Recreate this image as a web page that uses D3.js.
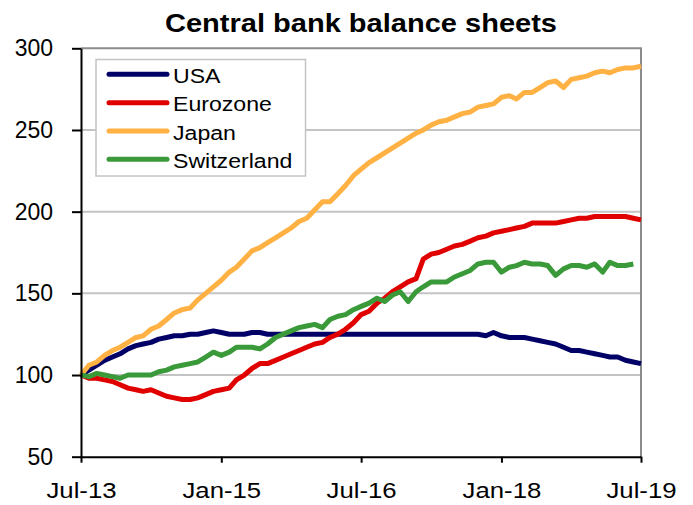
<!DOCTYPE html>
<html>
<head>
<meta charset="utf-8">
<script src="https://cdn.jsdelivr.net/npm/d3@7"></script>
<style>
  html, body { margin: 0; padding: 0; background: #fff; }
  svg { display: block; font-family: "Liberation Sans", Arial, sans-serif; }
</style>
</head>
<body>
<svg id="chart" width="693" height="505"></svg>
<script>
// Monthly index values, Jul-2013 = 100
const startMonth = new Date(2013, 6, 1);

const usa = [100,103,106,109,111,113,116,118,119,120,122,123,124,124,125,125,126,127,126,125,
  125,125,126,126,125,125,125,125,125,125,125,125,125,125,125,125,125,125,125,125,
  125,125,125,125,125,125,125,125,125,125,125,125,124,126,124,123,123,123,122,121,
  120,119,117,115,115,114,113,112,111,111,109,108,107];

const eurozone = [100,98,98,97,96,94,92,91,90,91,89,87,86,85,85,86,88,90,91,92,
  97,100,104,107,107,109,111,113,115,117,119,120,123,125,128,132,137,139,144,147,
  151,154,157,159,171,174,175,177,179,180,182,184,185,187,188,189,190,191,193,193,
  193,193,194,195,196,196,197,197,197,197,197,196,195];

const japan = [100,106,108,112,115,117,120,123,124,128,130,134,138,140,141,146,150,154,158,163,
  166,171,176,178,181,184,187,190,194,196,201,206,206,211,216,222,226,230,233,236,
  239,242,245,248,250,253,255,256,258,260,261,264,265,266,270,271,269,273,273,276,
  279,280,276,281,282,283,285,286,285,287,288,288,289];

const switzerland = [100,99,101,100,99,98,100,100,100,100,102,103,105,106,107,108,111,114,112,114,
  117,117,117,116,119,123,125,127,129,130,131,129,134,136,137,140,142,144,147,145,
  149,151,145,151,154,157,157,157,160,162,164,168,169,169,163,166,167,169,168,168,
  167,161,165,167,167,166,168,163,169,167,167,168];

const seriesNames = ["USA", "Eurozone", "Japan", "Switzerland"];
const seriesColors = ["#000066", "#e00000", "#ffb144", "#3a9a3a"];
const yTicks = [50, 100, 150, 200, 250, 300];
const xTickMonths = [0, 18, 36, 54, 72];
const title = "Central bank balance sheets";

const svg = d3.select("#chart");
const plotLeft = 81, plotRight = 641, plotTop = 48.3, plotBottom = 456.7;

const monthDate = i => d3.timeMonth.offset(startMonth, i);
const x = d3.scaleTime()
  .domain([monthDate(0), monthDate(72)])
  .range([plotLeft, plotRight]);
const y = d3.scaleLinear().domain([50, 300]).range([plotBottom, plotTop]);

// Title
svg.append("text")
  .attr("x", (plotLeft + plotRight) / 2)
  .attr("y", 31.7)
  .attr("text-anchor", "middle")
  .attr("font-weight", "bold")
  .attr("font-size", 26)
  .attr("textLength", 392)
  .attr("lengthAdjust", "spacingAndGlyphs")
  .text(title);

// Horizontal gridlines
svg.append("g")
  .selectAll("line")
  .data(yTicks.filter(v => v > 50 && v < 300))
  .join("line")
  .attr("x1", plotLeft).attr("x2", plotRight)
  .attr("y1", d => y(d)).attr("y2", d => y(d))
  .attr("stroke", "#c4c4c4").attr("stroke-width", 2);

// Top and right frame
svg.append("path")
  .attr("d", `M${plotLeft},${y(300)}H${plotRight}V${plotBottom}`)
  .attr("fill", "none").attr("stroke", "#8c8c8c").attr("stroke-width", 2);

// Series lines
const line = d3.line()
  .x((d, i) => x(monthDate(i)))
  .y(d => y(d));

const allSeries = [usa, eurozone, japan, switzerland];
svg.append("g")
  .selectAll("path")
  .data(allSeries)
  .join("path")
  .attr("d", d => line(d))
  .attr("fill", "none")
  .attr("stroke", (d, i) => seriesColors[i])
  .attr("stroke-width", 5)
  .attr("stroke-linejoin", "round");

// Y axis
const yAxis = svg.append("g")
  .attr("transform", `translate(${plotLeft},0)`)
  .call(d3.axisLeft(y).tickValues(yTicks).tickSize(9).tickSizeOuter(0).tickPadding(19).tickFormat(d3.format("d")));
yAxis.select(".domain").attr("stroke", "#000").attr("stroke-width", 2);
yAxis.selectAll(".tick line").attr("stroke", "#000").attr("stroke-width", 2);
yAxis.selectAll("text")
  .attr("font-size", 23)
  .attr("font-family", "Liberation Sans, Arial, sans-serif")
  .attr("fill", "#000");

// X axis
const fmt = d3.timeFormat("%b-%y");
const xAxis = svg.append("g")
  .attr("transform", `translate(0,${plotBottom})`)
  .call(d3.axisBottom(x).tickValues(xTickMonths.map(monthDate)).tickSize(6).tickSizeOuter(0).tickPadding(19).tickFormat(fmt));
xAxis.select(".domain").attr("stroke", "#000").attr("stroke-width", 2);
xAxis.selectAll(".tick line").attr("stroke", "#000").attr("stroke-width", 2);
xAxis.selectAll("text")
  .attr("font-size", 23)
  .attr("font-family", "Liberation Sans, Arial, sans-serif")
  .attr("fill", "#000")
  .attr("transform", "scale(1.12,1)");

// Legend
const legend = svg.append("g");
legend.append("rect")
  .attr("x", 96).attr("y", 59.5)
  .attr("width", 209.5).attr("height", 116.5)
  .attr("fill", "#fff").attr("stroke", "#c4c4c4").attr("stroke-width", 1.5);
const rowY = i => 74.3 + i * 28.35;
legend.selectAll("line.key")
  .data(seriesNames)
  .join("line")
  .attr("class", "key")
  .attr("x1", 109).attr("x2", 167)
  .attr("y1", (d, i) => rowY(i)).attr("y2", (d, i) => rowY(i))
  .attr("stroke", (d, i) => seriesColors[i])
  .attr("stroke-width", 5)
  .attr("stroke-linecap", "round");
legend.selectAll("text")
  .data(seriesNames)
  .join("text")
  .attr("transform", (d, i) => `translate(173,${rowY(i) + 8.5}) scale(1.1,1)`)
  .attr("font-size", 21)
  .text(d => d);
</script>
</body>
</html>
